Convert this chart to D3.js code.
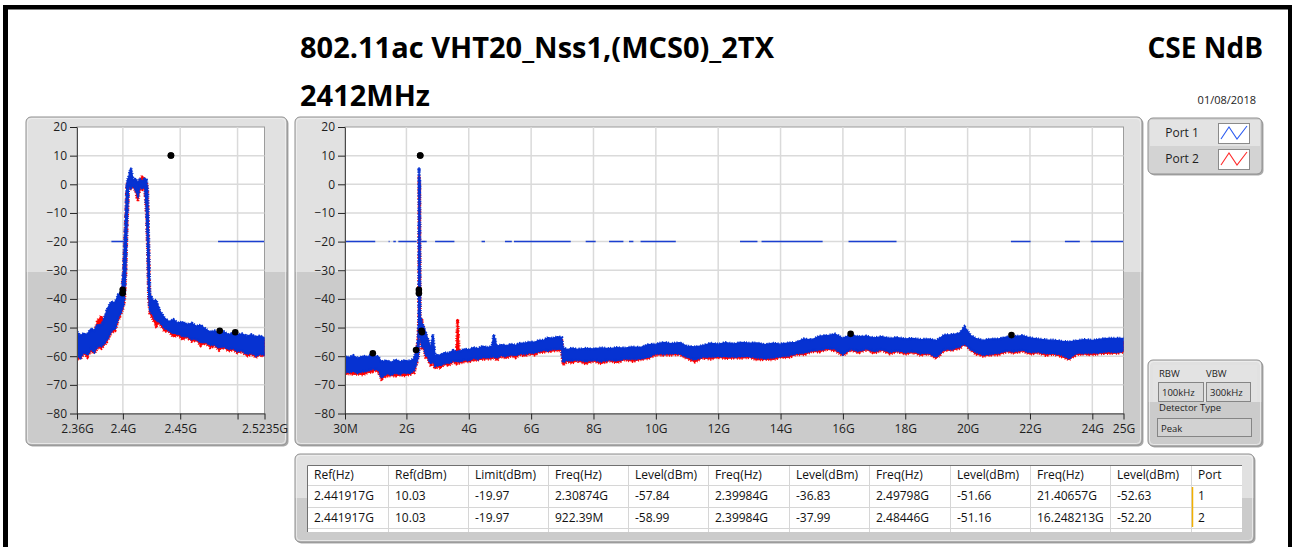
<!DOCTYPE html>
<html>
<head>
<meta charset="utf-8"/>
<script src="https://cdn.jsdelivr.net/npm/d3@7"></script>
<title>CSE NdB</title>
<style>
body { margin:0; background:#fff; }
svg text { font-family: "Open Sans", "Noto Sans", sans-serif; }
</style>
</head>
<body>
<script>
// ---- text ----
var titleLine1 = "802.11ac VHT20_Nss1,(MCS0)_2TX";
var titleLine2 = "2412MHz";
var titleRight = "CSE NdB";
var testDate = "01/08/2018";
var ports = ["Port 1", "Port 2"];

// ---- axes ----
var yTicks = [20, 10, 0, -10, -20, -30, -40, -50, -60, -70, -80];
var zoomTicks = [2.36, 2.4, 2.45, 2.5, 2.5235];
var zoomTickLabels = ["2.36G", "2.4G", "2.45G", "", "2.5235G"];
var fullTicks = [0.03, 2, 4, 6, 8, 10, 12, 14, 16, 18, 20, 22, 24, 25];
var fullTickLabels = ["30M", "2G", "4G", "6G", "8G", "10G", "12G", "14G", "16G", "18G", "20G", "22G", "24G", "25G"];

// ---- limit line (dBm) and the stretches where it is drawn (GHz) ----
var limitLevel = -19.97;
var zoomLimitSegs = [[2.39, 2.402], [2.483, 2.5235]];
var fullLimitSegs = [[0.03, 1.0], [1.43, 1.46], [1.58, 1.66], [1.74, 2.33], [2.36, 2.65], [2.92, 3.54],
  [4.41, 4.52], [5.16, 5.38], [5.45, 7.27], [7.75, 8.07], [8.5, 8.96], [9.14, 9.28], [9.51, 10.64],
  [12.7, 13.26], [13.39, 15.35], [16.18, 17.72], [21.39, 22.02], [23.12, 23.6], [23.95, 25.0]];

// ---- zoomed trace, 2.36 - 2.5235 GHz (upper / lower edge of the noisy trace, dBm) ----
var zoomFreq = [2.360, 2.363, 2.366, 2.369, 2.372, 2.375, 2.378, 2.381, 2.384, 2.387, 2.390, 2.393, 2.396, 2.399,
  2.4005, 2.4015, 2.4025, 2.4035, 2.405, 2.407, 2.409, 2.411, 2.413, 2.415, 2.417, 2.419, 2.4205, 2.4215, 2.4225,
  2.4235, 2.426, 2.429, 2.432, 2.436, 2.440, 2.444, 2.448, 2.452, 2.456, 2.460, 2.464, 2.468, 2.472, 2.476, 2.480,
  2.484, 2.488, 2.492, 2.496, 2.500, 2.504, 2.508, 2.512, 2.516, 2.520, 2.5235];
var zoomP1Hi = [-51.5, -53, -52, -52.5, -50.5, -51, -49, -49.5, -46.5, -43, -41, -41.5, -38.5, -37.5,
  -30, -20, -11, 0.5, 2.5, 5.7, 1.2, 2, 0.2, 2, 0.8, 2.2, 1.5, -1.5, -20,
  -38, -40.5, -40.5, -44, -46.5, -48, -47.2, -48.5, -48, -49, -48.5, -49.5, -49.2, -50.5, -51.5, -51.2,
  -52, -51.5, -52.5, -52, -52.5, -52.2, -53, -52.5, -53.2, -53, -53.5];
var zoomP1Lo = [-60, -60.5, -58.5, -59.5, -57.5, -58.5, -56.5, -56.5, -55.5, -53.5, -51, -50.5, -46.5, -44,
  -42, -38, -30, -15, -0.5, -1.2, -0.3, -2, -3.7, -0.8, -1.5, -0.5, -8, -20, -38,
  -44, -45.5, -47.5, -48, -50, -51, -52, -52, -53, -53, -54, -54, -55.2, -55, -56, -56,
  -57, -56.5, -57.5, -57.2, -58.2, -58, -59.2, -58.8, -59.8, -59.2, -59.5];
var zoomP2Hi = [-52.5, -54, -53, -53.5, -51.5, -52, -47.5, -46, -47.5, -44, -42, -42.5, -40, -38.5,
  -32, -22, -12, 0, 1.5, 2, 0.5, 1, -0.5, 1.5, 3, 1.5, 1, -2, -22,
  -40, -41.5, -41.5, -45, -47.5, -49, -48.2, -49.5, -49, -50, -49.5, -50.5, -50.2, -51.5, -52.5, -52.2,
  -53, -52.5, -53.5, -53, -53.5, -53.2, -54, -53.5, -54.2, -54, -54.5];
var zoomP2Lo = [-60.8, -61, -59, -60.3, -58.2, -59, -57, -57.3, -56.2, -54.3, -51.8, -51.2, -47.5, -44.5,
  -43, -40, -32, -16, -1, -1.5, -1, -2.3, -5.8, -1.5, -1.8, -1.2, -10, -22, -40,
  -45, -47, -49.5, -48.5, -51.2, -51.3, -53.3, -52.6, -54.2, -53.4, -54.8, -54.5, -56.3, -55.4, -57, -56.4,
  -57.9, -56.9, -58.2, -57.8, -58.8, -58.4, -60, -59.3, -60.4, -59.6, -60];

// ---- full span trace, 30 MHz - 25 GHz ----
var fullFreq = [0.03, 0.15, 0.3, 0.45, 0.6, 0.75, 0.9, 1.0, 1.1, 1.2, 1.35, 1.5, 1.65, 1.8, 1.95, 2.1, 2.25, 2.33,
  2.38, 2.395, 2.405, 2.415, 2.425, 2.44, 2.5, 2.56, 2.62, 2.7, 2.78, 2.85, 2.92, 3.0, 3.1, 3.2, 3.35, 3.5, 3.6,
  3.64, 3.7, 3.85, 4.0, 4.15, 4.3, 4.45, 4.6, 4.75, 4.8, 4.9, 5.05, 5.2, 5.35, 5.5, 5.65, 5.8, 5.95, 6.1, 6.25,
  6.4, 6.55, 6.7, 6.85, 6.98, 7.02, 7.15, 7.3, 7.5, 7.75, 8.0, 8.25, 8.5, 8.75, 9.0, 9.25, 9.5, 9.75, 10.0,
  10.25, 10.5, 10.75, 11.0, 11.25, 11.5, 11.75, 12.0, 12.25, 12.5, 12.75, 13.0, 13.25, 13.5, 13.75, 14.0,
  14.25, 14.5, 14.75, 15.0, 15.25, 15.5, 15.75, 16.0, 16.25, 16.5, 16.75, 17.0, 17.25, 17.5, 17.75, 18.0,
  18.25, 18.5, 18.75, 19.0, 19.25, 19.5, 19.75, 19.9, 20.1, 20.25, 20.5, 20.75, 21.0, 21.25, 21.5, 21.75,
  22.0, 22.25, 22.5, 22.75, 23.0, 23.25, 23.5, 23.75, 24.0, 24.25, 24.5, 24.75, 25.0];
var fullP1Hi = [-60, -60.5, -59.8, -60.8, -60, -60.3, -59.2, -60, -60.2, -62, -61.5, -62.2, -61.3, -62, -61.5, -61.8, -60.8, -57.5,
  -54, -47, 5.8, -3, 1.6, -46, -48.5, -50, -52, -54.5, -57.5, -52.5, -60, -59.5, -59.8, -58.8, -59, -58, -58.5,
  -58.2, -58.5, -57.5, -57.8, -57, -57.4, -56.5, -57, -56.5, -52.5, -56.6, -56, -56.4, -55.8, -56.2, -55.5, -55.5, -55, -55.2, -54.5,
  -54.5, -53.5, -53.8, -53.2, -53.5, -57, -57.8, -57.2, -57.6, -57.3, -57.5, -57.1, -57.4, -57, -57.2, -56.8, -57, -56, -55.8,
  -55.2, -55.6, -55.3, -56.5, -56.8, -56.3, -55.5, -55.8, -55.3, -55.7, -55.2, -55.5, -55.4, -56, -55.5, -55.8,
  -55.4, -55.2, -54, -54.3, -53, -52.8, -52.3, -53.8, -52.6, -53.2, -53, -53.6, -53.2, -53.8, -53.5, -54,
  -53.8, -54.2, -54, -54.6, -52.6, -52.5, -52, -49.8, -52.8, -53.8, -54.5, -54, -54, -53.3, -53.2, -52.8,
  -53.6, -54, -54.3, -54.4, -54.8, -55, -54.6, -54.2, -54.5, -54.1, -53.8, -53.8, -53.8];
var fullP1Lo = [-65.3, -65.6, -65.2, -65.8, -65.3, -65.2, -64.3, -64.6, -64.5, -67.5, -66, -66.4, -65.8, -66.2, -65.6, -66, -64.8, -62,
  -60, -58, -50, -50, -50, -53, -56.5, -57, -59.5, -60.5, -62.5, -61.5, -63.3, -63.2, -63.2, -62.4, -62.4, -61.5, -61.8,
  -61.4, -62, -61.2, -61.5, -60.6, -61, -60.2, -60.6, -60, -60.2, -60.5, -59.6, -60, -59.4, -59.7, -59, -59.2, -58.8, -58.8, -58.3,
  -57.8, -58, -57.4, -57.6, -57.3, -62, -61.4, -61.5, -61.2, -61.8, -61.3, -61.8, -61.2, -61.5, -60.8, -61, -60.8, -60.3, -59,
  -59.2, -59, -59, -60.2, -61.2, -60.2, -60.2, -60, -60, -60.2, -60, -60, -60.5, -60.7, -60.5, -60,
  -59.8, -59, -58.8, -58, -57.8, -57.2, -57.4, -59.3, -57.4, -58.2, -57.3, -58.3, -57.5, -58.5, -58, -58.6,
  -58.3, -59, -58.8, -60.2, -57.5, -57.5, -56.6, -55.5, -57.5, -58.5, -59.5, -59.2, -58.8, -58, -58.3, -57.8,
  -58.6, -58.4, -59, -58.9, -59.4, -60.8, -58.8, -58.9, -58.8, -58.7, -58.3, -58.6, -58.2];
var fullP2Hi = [-61, -61.5, -60.8, -61.8, -61, -61.3, -60.2, -61, -61.2, -63, -62.5, -63.2, -62.3, -63, -62.5, -62.8, -61.8, -58.5,
  -52, -46, 3, -4, 0, -47, -47.5, -51, -53, -55.5, -58.5, -59, -61, -60.5, -60.8, -59.8, -60, -59, -59.5,
  -47, -59.5, -58.5, -58.8, -58, -58.4, -57.5, -58, -57.5, -57.5, -57.6, -57, -57.4, -56.8, -57.2, -56.5, -56.5, -56, -56.2, -55.5,
  -55.5, -54.5, -54.8, -54.2, -54.5, -58, -58.8, -58.2, -58.6, -58.3, -58.5, -58.1, -58.4, -58, -58.2, -57.8, -58, -57, -56.8,
  -56.2, -56.6, -56.3, -57.5, -57.8, -57.3, -56.5, -56.8, -56.3, -56.7, -56.2, -56.5, -56.4, -57, -56.5, -56.8,
  -56.4, -56.2, -55, -55.3, -54, -53.8, -53.3, -54.8, -53.6, -54.2, -54, -54.6, -54.2, -54.8, -54.5, -55,
  -54.8, -55.2, -55, -55.6, -53.6, -53.5, -53, -51, -53.8, -54.8, -55.5, -55, -55, -54.3, -54.2, -53.8,
  -54.6, -55, -55.3, -55.4, -55.8, -56, -55.6, -55.2, -55.5, -55.1, -54.8, -54.8, -54.8];
var fullP2Lo = [-66.5, -66, -66.4, -66.2, -66.5, -65.8, -65.5, -65, -65.6, -68, -67, -66.8, -66.9, -66.6, -66.8, -66.4, -65.8, -62.5,
  -60, -58, -50, -50, -50, -53.5, -57.2, -57.5, -60.5, -61, -63.5, -62, -64.5, -63.6, -64.3, -62.8, -63.3, -62, -62.6,
  -62, -62.4, -62, -61.9, -61.5, -61.3, -61, -61, -60.9, -60.5, -61.4, -60, -60.8, -59.8, -60.5, -59.4, -60, -59.2, -59.6, -58.7,
  -58.6, -58.4, -58.2, -58, -58.1, -63.2, -61.8, -62.4, -61.6, -62.7, -61.7, -62.6, -61.6, -62.3, -61.2, -61.8, -61.2, -60.8, -59.6,
  -59.6, -59.6, -59.4, -60.8, -62, -60.6, -61, -60.4, -60.8, -60.6, -60.7, -60.4, -61.3, -61.1, -61.2, -60.4,
  -60.5, -59.4, -59.5, -58.4, -58.5, -57.6, -58.1, -59.8, -57.8, -58.9, -57.7, -59, -57.9, -59.2, -58.4, -59.3,
  -58.7, -59.7, -59.2, -60.8, -58, -57.9, -57.3, -55.8, -57.9, -59.2, -60, -59.6, -59.5, -58.4, -59, -58.2,
  -59.3, -58.8, -59.7, -59.3, -60.1, -61.2, -59.4, -59.3, -59.5, -59.1, -59, -59, -58.6];

// ---- result table; the markers come from it ----
var tableHead = ["Ref(Hz)", "Ref(dBm)", "Limit(dBm)", "Freq(Hz)", "Level(dBm)", "Freq(Hz)", "Level(dBm)",
  "Freq(Hz)", "Level(dBm)", "Freq(Hz)", "Level(dBm)", "Port"];
var tableRow1 = ["2.441917G", "10.03", "-19.97", "2.30874G", "-57.84", "2.39984G", "-36.83", "2.49798G", "-51.66", "21.40657G", "-52.63", "1"];
var tableRow2 = ["2.441917G", "10.03", "-19.97", "922.39M", "-58.99", "2.39984G", "-37.99", "2.48446G", "-51.16", "16.248213G", "-52.20", "2"];

var rbw = "100kHz", vbw = "300kHz", detector = "Peak";

// ---------------------------------------------------------------
var W = 1292, H = 547;
var blue = "#0632d2", red = "#ff0000", limitBlue = "#1a3fd0";
var panelLight = "#e1e1e1", panelDark = "#cbcbcb";

var svg = d3.select("body").append("svg").attr("width", W).attr("height", H);
var defs = svg.append("defs");
var gradN = 0;

function toGHz(s) {
  var v = parseFloat(s);
  if (s.slice(-1) == "M") return v / 1000;
  return v;
}

// markers: reference peak + the 4 level pairs of each row
var markers = [];
[tableRow1, tableRow2].forEach(function(r) {
  markers.push([toGHz(r[0]), +r[1]]);
  for (var i = 3; i < 11; i += 2) markers.push([toGHz(r[i]), +r[i + 1]]);
});

// gray LabVIEW style box, light upper part and darker lower part
function panel(x, y, w, h, splitY) {
  var id = "pg" + (gradN++);
  var t = (splitY - y) / h;
  var g = defs.append("linearGradient").attr("id", id).attr("gradientUnits", "userSpaceOnUse")
    .attr("x1", 0).attr("x2", 0).attr("y1", y).attr("y2", y + h);
  g.append("stop").attr("offset", t).attr("stop-color", panelLight);
  g.append("stop").attr("offset", t).attr("stop-color", panelDark);
  svg.append("rect").attr("x", x + 1.5).attr("y", y + 1.5).attr("width", w).attr("height", h)
    .attr("rx", 5).attr("fill", "#a9a9a9");
  svg.append("rect").attr("x", x).attr("y", y).attr("width", w).attr("height", h)
    .attr("rx", 5).attr("fill", "url(#" + id + ")").attr("stroke", "#8f8f8f");
  svg.append("rect").attr("x", x + 1.5).attr("y", y + 1.5).attr("width", w - 3).attr("height", h - 3)
    .attr("rx", 4).attr("fill", "none").attr("stroke", "#f2f2f2").attr("stroke-opacity", 0.7);
}

function chart(c) {
  panel(c.px, 117, c.pw, 328, 272);
  var x = d3.scaleLinear().domain(c.domain).range([c.left, c.right]);
  var y = d3.scaleLinear().domain([-80, 20]).range([413.5, 127]);
  var g = svg.append("g");

  g.append("rect").attr("x", c.left).attr("y", 127).attr("width", c.right - c.left).attr("height", 413.5 - 127)
    .attr("fill", "#fff").attr("stroke", "#9c9c9c");

  // grid
  g.selectAll(".gy").data(yTicks.slice(1, -1)).enter().append("line")
    .attr("x1", c.left).attr("x2", c.right).attr("y1", y).attr("y2", y)
    .attr("stroke", "#dadada").attr("stroke-width", 1.5);
  g.selectAll(".gx").data(c.ticks.slice(1, -1)).enter().append("line")
    .attr("x1", x).attr("x2", x).attr("y1", 127).attr("y2", 413.5)
    .attr("stroke", "#dadada").attr("stroke-width", 1.5);

  var cid = "clip" + c.px;
  defs.append("clipPath").attr("id", cid).append("rect")
    .attr("x", c.left).attr("y", 127).attr("width", c.right - c.left).attr("height", 413.5 - 127);
  var plot = g.append("g").attr("clip-path", "url(#" + cid + ")");

  var band = d3.area()
    .x(function(d, i) { return x(c.freq[i]); })
    .y0(function(d) { return y(d[0]); })
    .y1(function(d) { return y(d[1]); });

  // port 2 underneath, port 1 on top; dashed wide outline gives the noisy fringe
  var traces = [[c.p2Lo, c.p2Hi, red, 1], [c.p1Lo, c.p1Hi, blue, 1.4]];
  traces.forEach(function(t) {
    var pts = t[0].map(function(v, i) { return [v, t[1][i]]; });
    plot.append("path").datum(pts).attr("d", band)
      .attr("fill", t[2]).attr("stroke", t[2]).attr("stroke-width", t[3]).attr("stroke-linejoin", "round");
    plot.append("path").datum(pts).attr("d", band)
      .attr("fill", "none").attr("stroke", t[2]).attr("stroke-width", 3.2)
      .attr("stroke-dasharray", "1 1.5 1 2.5 1.5 1 1 3 1 1.2");
  });

  plot.selectAll(".lim").data(c.limit).enter().append("line")
    .attr("x1", function(d) { return x(d[0]); }).attr("x2", function(d) { return x(d[1]); })
    .attr("y1", y(limitLevel)).attr("y2", y(limitLevel))
    .attr("stroke", limitBlue).attr("stroke-width", 1.6);

  plot.selectAll(".mk").data(markers.filter(function(m) {
      return m[0] >= c.domain[0] && m[0] <= c.domain[1];
    })).enter().append("circle")
    .attr("cx", function(d) { return x(d[0]); }).attr("cy", function(d) { return y(d[1]); })
    .attr("r", 3.3).attr("fill", "#000");

  // axes
  var ya = g.append("g").attr("transform", "translate(" + c.left + ",0)")
    .call(d3.axisLeft(y).tickValues(yTicks).tickSize(7).tickSizeOuter(0).tickPadding(3));
  var xa = g.append("g").attr("transform", "translate(0,413.5)")
    .call(d3.axisBottom(x).tickValues(c.ticks).tickSize(6).tickSizeOuter(0).tickPadding(5)
      .tickFormat(function(d, i) { return c.labels[i]; }));
  [ya, xa].forEach(function(a) {
    a.attr("font-family", null).attr("font-size", 12);
    a.select(".domain").attr("stroke", "#4a4a4a");
    a.selectAll(".tick line").attr("stroke", "#222");
    a.selectAll("text").attr("fill", "#1e1e1e");
  });
}

// ---- page frame ----
svg.append("rect").attr("x", 3).attr("y", 5).attr("width", 5).attr("height", H - 5).attr("fill", "#000");
svg.append("rect").attr("x", 3).attr("y", 5).attr("width", W - 3).attr("height", 4.5).attr("fill", "#000");
svg.append("rect").attr("x", 1288).attr("y", 5).attr("width", 4).attr("height", H - 5).attr("fill", "#000");

// ---- titles ----
svg.append("text").attr("x", 300).attr("y", 58).attr("font-size", 29).attr("font-weight", "bold")
  .attr("fill", "#000").text(titleLine1);
svg.append("text").attr("x", 300).attr("y", 106).attr("font-size", 29).attr("font-weight", "bold")
  .attr("fill", "#000").text(titleLine2);
svg.append("text").attr("x", 1263).attr("y", 58).attr("font-size", 28).attr("font-weight", "bold")
  .attr("text-anchor", "end").attr("fill", "#000").text(titleRight);
svg.append("text").attr("x", 1256).attr("y", 104).attr("font-size", 11)
  .attr("text-anchor", "end").attr("fill", "#222").text(testDate);

// ---- charts ----
chart({ px: 26, pw: 261, left: 77, right: 264.5, domain: [2.36, 2.5235],
  ticks: zoomTicks, labels: zoomTickLabels, limit: zoomLimitSegs,
  freq: zoomFreq, p1Hi: zoomP1Hi, p1Lo: zoomP1Lo, p2Hi: zoomP2Hi, p2Lo: zoomP2Lo });
chart({ px: 295, pw: 847, left: 345, right: 1123.5, domain: [0.03, 25],
  ticks: fullTicks, labels: fullTickLabels, limit: fullLimitSegs,
  freq: fullFreq, p1Hi: fullP1Hi, p1Lo: fullP1Lo, p2Hi: fullP2Hi, p2Lo: fullP2Lo });

// ---- legend ----
(function() {
  var x0 = 1148, y0 = 118;
  svg.append("rect").attr("x", x0 + 1.5).attr("y", y0 + 1.5).attr("width", 114).attr("height", 56)
    .attr("rx", 5).attr("fill", "#a9a9a9");
  svg.append("rect").attr("x", x0).attr("y", y0).attr("width", 114).attr("height", 56)
    .attr("rx", 5).attr("fill", "#d3d3d3").attr("stroke", "#8f8f8f");
  svg.append("rect").attr("x", x0 + 2).attr("y", y0 + 2).attr("width", 110).attr("height", 26)
    .attr("fill", "#e3e3e3");
  ports.forEach(function(p, i) {
    var ry = y0 + 2 + i * 26;
    svg.append("text").attr("x", 1182).attr("y", ry + 13).attr("dy", "0.35em")
      .attr("text-anchor", "middle").attr("font-size", 12).attr("fill", "#1e1e1e").text(p);
    svg.append("rect").attr("x", 1218.5).attr("y", ry + 3.5).attr("width", 31).attr("height", 20)
      .attr("fill", "#fff").attr("stroke", "#8a8a8a");
    svg.append("path").attr("d", d3.line()([[1221, ry + 19], [1229, ry + 7], [1237, ry + 19], [1247, ry + 6]]))
      .attr("fill", "none").attr("stroke", i ? "#ff2a2a" : "#2c5bf0").attr("stroke-width", 1.1);
  });
})();

// ---- RBW / VBW box ----
(function() {
  panel(1148, 360, 114, 86, 402);
  svg.append("rect").attr("x", 1153).attr("y", 365).attr("width", 104).attr("height", 37).attr("fill", "#e3e3e3");
  var t = function(x, y, s) {
    svg.append("text").attr("x", x).attr("y", y).attr("font-size", 9.5).attr("fill", "#1e1e1e").text(s);
  };
  t(1159, 377, "RBW");
  t(1206, 377, "VBW");
  [[1158, 45, rbw], [1206, 44, vbw]].forEach(function(b) {
    svg.append("rect").attr("x", b[0] + 0.5).attr("y", 382.5).attr("width", b[1]).attr("height", 19)
      .attr("fill", "#d9d9d9").attr("stroke", "#858585");
    t(b[0] + 4, 396, b[2]);
  });
  t(1159, 411, "Detector Type");
  svg.append("rect").attr("x", 1157.5).attr("y", 418.5).attr("width", 94).attr("height", 18)
    .attr("fill", "#d2d2d2").attr("stroke", "#858585");
  t(1161, 432, detector);
})();

// ---- result table ----
(function() {
  panel(295, 454, 959, 88, 498);
  var colX = [307, 388, 468, 548, 628, 708, 789, 869, 950, 1030, 1110, 1191, 1242];
  var rowY = [465, 485, 507, 528, 532];
  var tg = svg.append("g");
  tg.append("rect").attr("x", colX[0]).attr("y", rowY[0]).attr("width", colX[12] - colX[0])
    .attr("height", rowY[4] - rowY[0]).attr("fill", "#fff");
  rowY.slice(1, 4).forEach(function(ry) {
    tg.append("line").attr("x1", colX[0]).attr("x2", colX[12]).attr("y1", ry + 0.5).attr("y2", ry + 0.5)
      .attr("stroke", "#d6d6d6");
  });
  colX.slice(1, 12).forEach(function(cx) {
    tg.append("line").attr("x1", cx + 0.5).attr("x2", cx + 0.5).attr("y1", rowY[0]).attr("y2", rowY[4])
      .attr("stroke", "#d6d6d6");
  });
  tg.append("path").attr("d", "M" + (colX[0] + 0.5) + "," + rowY[4] + "V" + (rowY[0] + 0.5) + "H" + colX[12])
    .attr("fill", "none").attr("stroke", "#707070");
  tg.append("line").attr("x1", colX[11] + 1.5).attr("x2", colX[11] + 1.5).attr("y1", rowY[1] + 2).attr("y2", rowY[3] - 1)
    .attr("stroke", "#f2b000").attr("stroke-width", 1.5);
  [tableHead, tableRow1, tableRow2].forEach(function(r, ri) {
    var cy = (rowY[ri] + rowY[ri + 1]) / 2;
    r.forEach(function(s, ci) {
      tg.append("text").attr("x", colX[ci] + 7).attr("y", cy).attr("dy", "0.35em")
        .attr("font-size", 12).attr("fill", "#111").text(s);
    });
  });
})();
</script>
</body>
</html>
